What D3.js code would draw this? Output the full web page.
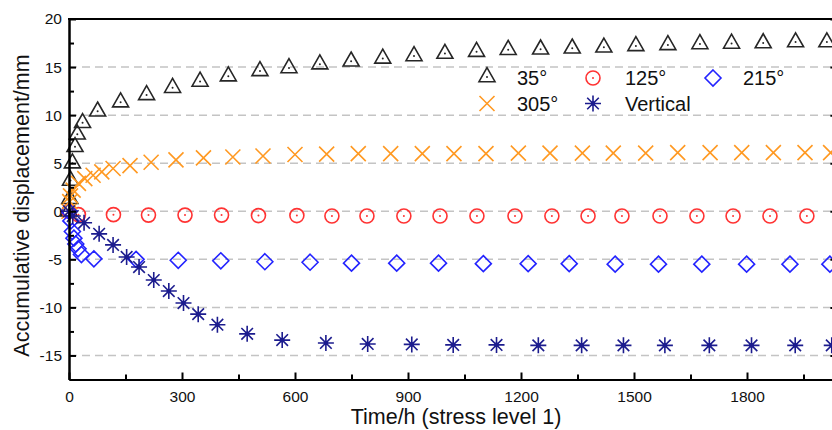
<!DOCTYPE html>
<html>
<head>
<meta charset="utf-8">
<script src="https://cdn.jsdelivr.net/npm/d3@7"></script>
<style>
  body { margin: 0; background: #fff; }
  svg { display: block; font-family: Arial, "Liberation Sans", sans-serif; }
</style>
</head>
<body>
<div id="chart"></div>
<script>
// Data (time in h, displacement in mm)
var t35 = [0, 2, 4, 9, 16, 22, 36, 76, 137, 206, 275, 348, 423, 507, 584, 666, 749, 833, 916, 998, 1082, 1166, 1252, 1336, 1420, 1505, 1590, 1675, 1759, 1843, 1929, 2012];
var v35 = [0, 1.3, 3.2, 5.0, 6.7, 8.0, 9.2, 10.4, 11.35, 12.1, 12.85, 13.5, 14.05, 14.6, 14.9, 15.3, 15.6, 15.9, 16.15, 16.4, 16.6, 16.8, 16.85, 16.95, 17.05, 17.2, 17.3, 17.4, 17.45, 17.5, 17.6, 17.6];

var t305 = [0, 2, 4, 11, 25, 42, 64, 87, 117, 162, 218, 284, 357, 435, 515, 600, 684, 768, 854, 938, 1022, 1107, 1193, 1277, 1363, 1445, 1531, 1616, 1702, 1786, 1870, 1954, 2022];
var v305 = [0, 1.0, 1.6, 2.2, 2.9, 3.4, 3.75, 4.1, 4.45, 4.75, 5.1, 5.35, 5.55, 5.65, 5.75, 5.9, 5.95, 6.0, 6.0, 6.0, 6.0, 6.0, 6.05, 6.05, 6.05, 6.05, 6.05, 6.1, 6.1, 6.1, 6.1, 6.1, 6.1];

var t125 = [0, 25, 118, 211, 308, 405, 503, 605, 698, 791, 889, 985, 1083, 1184, 1282, 1378, 1468, 1569, 1667, 1763, 1861, 1959];
var v125 = [0, -0.35, -0.35, -0.4, -0.4, -0.4, -0.45, -0.45, -0.5, -0.5, -0.5, -0.5, -0.5, -0.5, -0.5, -0.5, -0.5, -0.5, -0.5, -0.5, -0.5, -0.5];

var t215 = [0, 5, 9, 13, 18, 24, 33, 66, 178, 290, 403, 520, 640, 750, 870, 981, 1100, 1219, 1328, 1450, 1565, 1680, 1799, 1914, 2020];
var v215 = [0, -1.0, -2.1, -2.8, -3.4, -3.9, -4.5, -4.95, -5.0, -5.1, -5.15, -5.25, -5.3, -5.4, -5.4, -5.4, -5.45, -5.45, -5.45, -5.5, -5.5, -5.5, -5.5, -5.5, -5.5];

var tVert = [0, 10, 40, 80, 117, 153, 186, 225, 265, 304, 343, 394, 473, 566, 682, 793, 910, 1020, 1135, 1246, 1361, 1472, 1582, 1700, 1812, 1928, 2025];
var vVert = [0, -0.5, -1.2, -2.35, -3.5, -4.75, -5.8, -7.15, -8.3, -9.55, -10.7, -11.8, -12.75, -13.4, -13.7, -13.8, -13.85, -13.9, -13.9, -13.95, -13.95, -13.95, -13.95, -13.95, -13.95, -13.95, -13.95];

var seriesNames = ["35°", "125°", "215°", "305°", "Vertical"];
var xTicks = [0, 300, 600, 900, 1200, 1500, 1800];
var yTicks = [-15, -10, -5, 0, 5, 10, 15, 20];

var svgWidth = 832;
var svgHeight = 430;
var chartMargin = { top: 19, left: 69, bottom: 50.5 };
var xMax = 2040;
var pxPer300 = 113;

var svg = d3.select("#chart")
    .append("svg")
    .attr("width", svgWidth)
    .attr("height", svgHeight);

var xScale = d3.scaleLinear()
    .domain([0, xMax])
    .range([chartMargin.left, chartMargin.left + xMax * pxPer300 / 300]);

var yScale = d3.scaleLinear()
    .domain([-17.5, 20])
    .range([svgHeight - chartMargin.bottom, chartMargin.top]);

var x0 = xScale(0), x1 = xScale(xMax);
var yBottom = yScale(-17.5), yTop = yScale(20);

// dashed grid
svg.append("g").selectAll("line")
    .data(yTicks.filter(d => d < 20))
    .enter()
    .append("line")
    .attr("x1", x0)
    .attr("x2", x1)
    .attr("y1", d => yScale(d))
    .attr("y2", d => yScale(d))
    .attr("stroke", "#c4c4c4")
    .attr("stroke-width", 1.5)
    .attr("stroke-dasharray", "8,5");

// marker shapes
var shapes = {
    tri: "M0,-9.3L8,4.7L-8,4.7Z",
    circ: d3.arc()({ innerRadius: 0, outerRadius: 7, startAngle: 0, endAngle: 2 * Math.PI }),
    diam: "M0,-8L8,0L0,8L-8,0Z",
    cross: "M-7.5,-7.5L7.5,7.5M-7.5,7.5L7.5,-7.5",
    star: "M-8,0L8,0M0,-8L0,8M-5.8,-5.8L5.8,5.8M-5.8,5.8L5.8,-5.8"
};

var series = [
    { name: seriesNames[0], t: t35, v: v35, shape: "tri", color: "#262626", dot: 1 },
    { name: seriesNames[1], t: t125, v: v125, shape: "circ", color: "#ff3333", dot: 1 },
    { name: seriesNames[2], t: t215, v: v215, shape: "diam", color: "#2323ff", dot: 0 },
    { name: seriesNames[3], t: t305, v: v305, shape: "cross", color: "#ff9922", dot: 0 },
    { name: seriesNames[4], t: tVert, v: vVert, shape: "star", color: "#1c1c8e", dot: 2.3 }
];

function drawMarker(g, s) {
    g.append("path")
        .attr("d", shapes[s.shape])
        .attr("fill", "none")
        .attr("stroke", s.color)
        .attr("stroke-width", 1.6);
    if (s.dot) {
        g.append("circle")
            .attr("r", s.dot)
            .attr("fill", s.color);
    }
}

var plot = svg.append("g");
series.forEach(function(s) {
    var pts = s.t.map((t, i) => ({ t: t, v: s.v[i] }));
    plot.append("g").selectAll("g")
        .data(pts)
        .enter()
        .append("g")
        .attr("transform", d => `translate(${xScale(d.t)},${yScale(d.v)})`)
        .each(function() { drawMarker(d3.select(this), s); });
});

// axes
var bottomAxis = d3.axisBottom(xScale)
    .tickValues(xTicks)
    .tickSize(-7)
    .tickSizeOuter(0)
    .tickPadding(11.5)
    .tickFormat(d => String(d));
var bottomMinor = d3.axisBottom(xScale)
    .tickValues(d3.range(150, xMax, 300))
    .tickSize(-5)
    .tickSizeOuter(0)
    .tickFormat("");
var leftAxis = d3.axisLeft(yScale)
    .tickValues(yTicks)
    .tickSize(-7)
    .tickSizeOuter(0)
    .tickPadding(7)
    .tickFormat(d => String(d));
var leftMinor = d3.axisLeft(yScale)
    .tickValues(d3.range(-12.5, 20, 5))
    .tickSize(-5)
    .tickSizeOuter(0)
    .tickFormat("");
var rightAxis = d3.axisRight(yScale)
    .tickValues(yTicks)
    .tickSize(-7)
    .tickSizeOuter(0)
    .tickFormat("");

function styleAxis(g) {
    g.selectAll("path, line").attr("stroke", "#000").attr("stroke-width", 2);
    g.selectAll("text")
        .attr("fill", "#111")
        .style("font-size", "15.5px")
        .style("font-family", "Arial, 'Liberation Sans', sans-serif");
}

svg.append("g").attr("transform", `translate(0,${yBottom})`).call(bottomAxis).call(styleAxis);
svg.append("g").attr("transform", `translate(0,${yBottom})`).call(bottomMinor).call(styleAxis);
svg.append("g").attr("transform", `translate(${x0},0)`).call(leftAxis).call(styleAxis);
svg.append("g").attr("transform", `translate(${x0},0)`).call(leftMinor).call(styleAxis);
svg.append("g").attr("transform", `translate(${x1},0)`).call(rightAxis).call(styleAxis);

svg.append("line")
    .attr("x1", x0 - 1)
    .attr("x2", x1)
    .attr("y1", yTop)
    .attr("y2", yTop)
    .attr("stroke", "#000")
    .attr("stroke-width", 2);

// axis titles
svg.append("text")
    .attr("x", 456)
    .attr("y", 424)
    .attr("text-anchor", "middle")
    .attr("font-size", "21.5px")
    .attr("fill", "#111")
    .text("Time/h (stress level 1)");

svg.append("text")
    .attr("transform", "rotate(-90)")
    .attr("x", -205.5)
    .attr("y", 28.5)
    .attr("text-anchor", "middle")
    .attr("font-size", "21.5px")
    .attr("fill", "#111")
    .text("Accumulative displacement/mm");

// legend
var legendPos = [
    { mx: 487, my: 77, tx: 517, ty: 85 },
    { mx: 593, my: 78, tx: 625, ty: 85 },
    { mx: 713, my: 78, tx: 743, ty: 85 },
    { mx: 487, my: 103.5, tx: 517, ty: 111 },
    { mx: 593, my: 103.5, tx: 625, ty: 111 }
];
series.forEach(function(s, i) {
    var p = legendPos[i];
    var g = svg.append("g").attr("transform", `translate(${p.mx},${p.my})`);
    drawMarker(g, s);
    svg.append("text")
        .attr("x", p.tx)
        .attr("y", p.ty)
        .attr("font-size", "20px")
        .attr("fill", "#111")
        .text(s.name);
});
</script>
</body>
</html>
